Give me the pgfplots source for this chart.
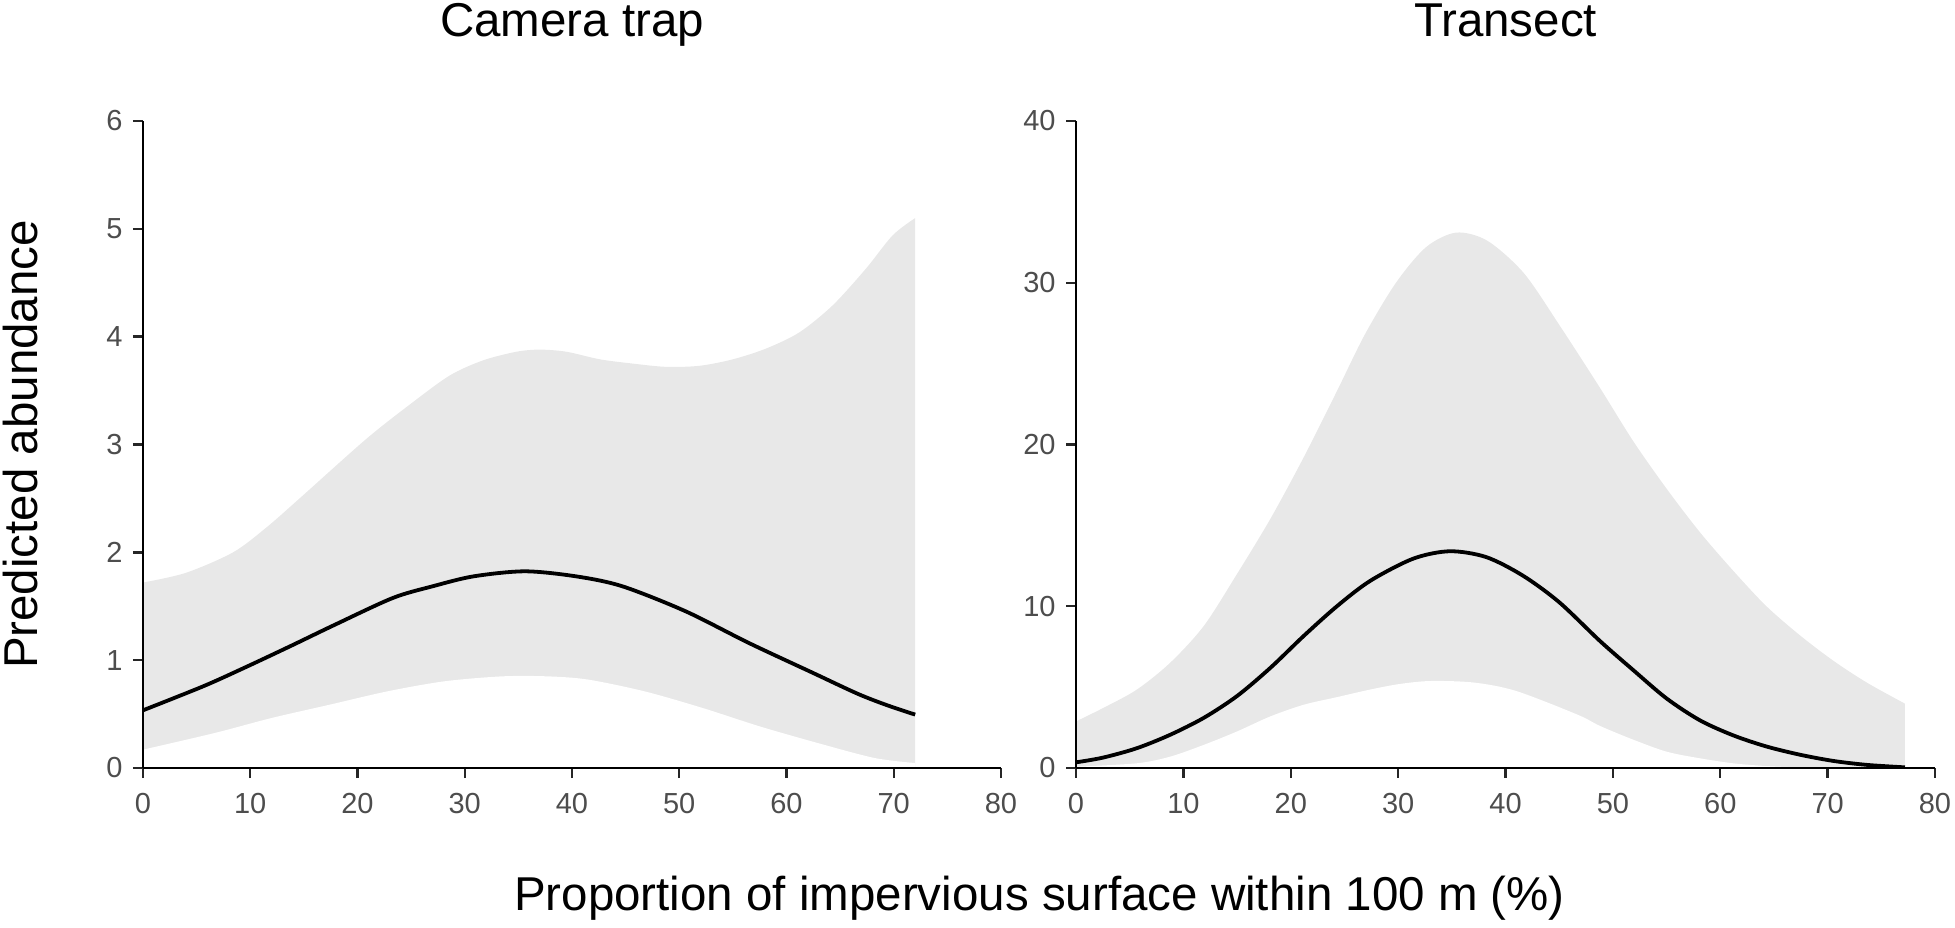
\documentclass[border=0pt]{standalone}
\usepackage{pgfplots}
\pgfplotsset{compat=1.18}
\usepackage{fontspec}
\setmainfont{Liberation Sans}
\definecolor{ribbon}{HTML}{E8E8E8}
\definecolor{tickgrey}{HTML}{4D4D4D}

\begin{document}
\begin{tikzpicture}
\path[use as bounding box] (0pt,0pt) rectangle (977.5pt,463.5pt);
\pgfplotsset{
  panel/.style={
    scale only axis, height=323.5pt,
    xmin=0, xmax=80, xtick={0,10,...,80},
    enlargelimits=false, axis on top,
    axis x line*=bottom, axis y line*=left,
    axis line style={line width=1.4pt, -},
    tick align=outside, major tick length=5pt,
    tick style={line width=1.2pt, color=black!85},
    /pgf/number format/assume math mode=true,
    tick label style={font=\fontsize{14.5}{17}\selectfont, color=tickgrey},
    xticklabel style={inner sep=0pt, yshift=-7.5pt, anchor=north},
    yticklabel style={inner sep=0pt, xshift=-5pt, anchor=east},
  }
}

% ---------------- Camera trap ----------------
\begin{axis}[panel, width=429pt, at={(71.5pt,79.5pt)}, anchor=south west,
  ymin=0, ymax=6, ytick={0,1,...,6}]
% upper bound of the band
\addplot[fill=ribbon, draw=none, smooth] coordinates {
 (0,1.72) (4,1.81) (8.4,2.0) (11.5,2.23) (14.6,2.5) (20.8,3.05) (25,3.38) (28.6,3.64)
 (31.7,3.78) (34.8,3.86) (37.0,3.88) (39.5,3.86) (42.6,3.79) (45.7,3.75)
 (48.8,3.72) (51.9,3.73) (55.0,3.79) (58.1,3.89) (61.2,4.04) (64.3,4.29)
 (67.4,4.63) (69.9,4.94) (72,5.10)
} \closedcycle;
% lower bound of the band
\addplot[fill=white, draw=none, smooth] coordinates {
 (0,0.17) (6.7,0.325) (12.0,0.464) (17.4,0.587) (22.8,0.711) (28.1,0.804)
 (33.5,0.85) (37.7,0.85) (41.5,0.82) (46.8,0.71) (52.2,0.556) (57.5,0.386)
 (62.9,0.232) (68.2,0.093) (72,0.046)
} \closedcycle;
\addplot[black, line width=1.9pt, smooth] coordinates {
 (0,0.535) (5.6,0.757) (9.4,0.927) (13.7,1.128) (17.9,1.329) (23.3,1.577)
 (27.0,1.685) (30.8,1.777) (35.6,1.824) (40.4,1.777) (44.7,1.685) (50.6,1.453)
 (56.5,1.159) (62.4,0.885) (66.6,0.69) (69.3,0.585) (72,0.495)
};
\end{axis}

% ---------------- Transect ----------------
\begin{axis}[panel, width=429.5pt, at={(538pt,79.5pt)}, anchor=south west,
  ymin=0, ymax=40, ytick={0,10,...,40}]
\addplot[fill=ribbon, draw=none, smooth] coordinates {
 (0,2.88) (2.5,3.7) (5.65,4.84) (8.76,6.5) (11.9,8.78) (15.0,12.0)
 (18.1,15.4) (21.2,19.2) (24.3,23.3)
 (26.9,26.8) (29.8,30.0) (32.6,32.2) (35.4,33.1) (38.3,32.6) (41.7,30.6)
 (45.1,27.3) (48.8,23.5) (51.9,20.2) (55.0,17.27) (58.1,14.58) (61.2,12.2)
 (64.3,10.0) (67.5,8.16) (70.6,6.6) (73.7,5.26) (77.2,3.98)
} \closedcycle;
\addplot[fill=white, draw=none, smooth] coordinates {
 (0,0.08) (5.65,0.29) (8.76,0.7) (11.9,1.43) (15.0,2.26) (18.1,3.19)
 (21.2,3.91) (24.3,4.38) (27.4,4.85) (30.2,5.2) (33.1,5.38) (37.1,5.28)
 (41,4.76) (46.7,3.3) (48.8,2.6) (51.9,1.75) (55.0,1.01) (58.1,0.6)
 (61.2,0.29) (64.3,0.12) (67.5,0.04) (72,0.01) (77.2,0.0)
} \closedcycle;
\addplot[black, line width=1.9pt, smooth] coordinates {
 (0,0.35) (2.5,0.64) (5.65,1.22) (8.76,2.05) (11.9,3.1) (15.0,4.45)
 (18.1,6.19) (21.2,8.16) (24.3,10.0) (27.4,11.57) (31.4,12.94) (34.8,13.4)
 (38.2,13.04) (41.6,11.9) (45.0,10.25) (48.8,7.85) (51.9,6.05) (55.0,4.3)
 (58.1,2.95) (61.2,2.02) (64.3,1.33) (67.5,0.81) (70.6,0.43) (73.7,0.19)
 (77.2,0.04)
};
\end{axis}

\node[anchor=base, font=\fontsize{23.75}{28}\selectfont, inner sep=0pt]
  at (286pt,445pt) {Camera trap};
\node[anchor=base, font=\fontsize{23.75}{28}\selectfont, inner sep=0pt]
  at (752.75pt,445pt) {Transect};
\node[anchor=base, font=\fontsize{23.75}{28}\selectfont, inner sep=0pt]
  at (519.75pt,8.5pt) {Proportion of impervious surface within 100 m (\%)};
\node[anchor=base, rotate=90, font=\fontsize{23.75}{28}\selectfont, inner sep=0pt]
  at (19pt,241.25pt) {Predicted abundance};
\end{tikzpicture}
\end{document}
